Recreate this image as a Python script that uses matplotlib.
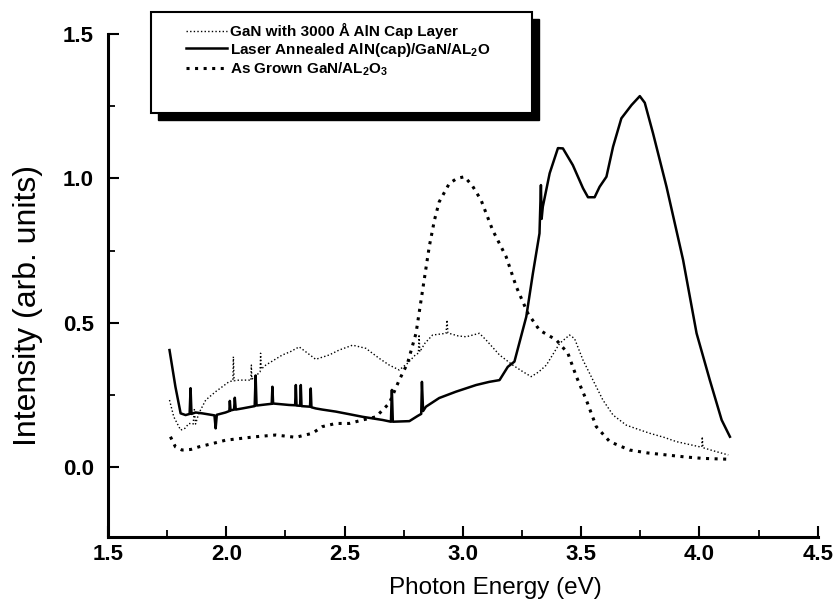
import matplotlib
matplotlib.use("Agg")
import matplotlib.pyplot as plt
from matplotlib.patches import Rectangle
from matplotlib.ticker import MultipleLocator

plt.rcParams['font.family'] = ['Liberation Sans', 'DejaVu Sans']
plt.rcParams['mathtext.fontset'] = 'custom'
plt.rcParams['mathtext.rm'] = 'Liberation Sans:bold'
plt.rcParams['mathtext.it'] = 'Liberation Sans:bold'

# ---- data ----
annealed_x = [1.760, 1.785, 1.807, 1.828, 1.845, 1.849, 1.853, 1.870, 1.898, 1.950, 1.955, 1.960,
              1.997, 2.013, 2.015, 2.018, 2.033, 2.036, 2.040, 2.068, 2.120, 2.124, 2.128, 2.170,
              2.192, 2.195, 2.198, 2.265, 2.291, 2.294, 2.297, 2.312, 2.315, 2.318, 2.354, 2.357,
              2.360, 2.378, 2.406, 2.463, 2.520, 2.576, 2.630, 2.661, 2.696, 2.700, 2.704, 2.774,
              2.809, 2.824, 2.827, 2.832, 2.844, 2.900, 2.971, 3.056, 3.112, 3.155, 3.190, 3.218,
              3.268, 3.296, 3.324, 3.330, 3.333, 3.338, 3.367, 3.402, 3.423, 3.465, 3.508, 3.529,
              3.557, 3.578, 3.607, 3.635, 3.670, 3.713, 3.748, 3.769, 3.804, 3.861, 3.931, 3.988,
              4.044, 4.094, 4.129]
annealed_y = [0.406, 0.279, 0.187, 0.181, 0.185, 0.274, 0.185, 0.190, 0.187, 0.180, 0.135, 0.182,
              0.190, 0.195, 0.230, 0.197, 0.200, 0.241, 0.200, 0.204, 0.212, 0.318, 0.214, 0.218,
              0.220, 0.279, 0.221, 0.216, 0.215, 0.285, 0.214, 0.213, 0.285, 0.212, 0.210, 0.273,
              0.208, 0.204, 0.200, 0.193, 0.184, 0.175, 0.168, 0.164, 0.158, 0.268, 0.158, 0.160,
              0.178, 0.185, 0.296, 0.195, 0.210, 0.240, 0.262, 0.285, 0.296, 0.302, 0.348, 0.366,
              0.521, 0.671, 0.810, 0.977, 0.860, 0.902, 1.018, 1.105, 1.104, 1.046, 0.966, 0.935,
              0.935, 0.971, 1.006, 1.110, 1.208, 1.254, 1.285, 1.262, 1.156, 0.971, 0.718, 0.464,
              0.302, 0.164, 0.106]

grown_x = [1.764, 1.785, 1.813, 1.850, 1.884, 1.940, 1.997, 2.060, 2.124, 2.209, 2.294, 2.364,
           2.406, 2.463, 2.520, 2.576, 2.633, 2.689, 2.731, 2.766, 2.802, 2.830, 2.858, 2.880,
           2.900, 2.943, 2.975, 3.007, 3.040, 3.077, 3.126, 3.183, 3.226, 3.275, 3.324, 3.395,
           3.444, 3.480, 3.522, 3.564, 3.621, 3.705, 3.780, 3.861, 3.940, 4.016, 4.129]
grown_y = [0.106, 0.071, 0.060, 0.062, 0.071, 0.082, 0.094, 0.100, 0.106, 0.112, 0.104, 0.118,
           0.141, 0.152, 0.152, 0.164, 0.175, 0.222, 0.302, 0.360, 0.464, 0.614, 0.764, 0.856,
           0.919, 0.983, 1.000, 1.006, 0.975, 0.925, 0.821, 0.729, 0.625, 0.533, 0.475, 0.441,
           0.395, 0.314, 0.233, 0.141, 0.089, 0.060, 0.050, 0.043, 0.036, 0.031, 0.028]

capped_x = [1.760, 1.778, 1.807, 1.825, 1.842, 1.860, 1.865, 1.870, 1.884, 1.913, 1.955, 2.011,
            2.028, 2.030, 2.033, 2.054, 2.096, 2.104, 2.106, 2.108, 2.143, 2.145, 2.148, 2.167,
            2.237, 2.270, 2.308, 2.336, 2.378, 2.435, 2.477, 2.534, 2.590, 2.647, 2.689, 2.731,
            2.766, 2.800, 2.812, 2.815, 2.818, 2.840, 2.872, 2.929, 2.933, 2.937, 2.980, 3.014,
            3.070, 3.098, 3.155, 3.211, 3.254, 3.289, 3.320, 3.353, 3.409, 3.451, 3.472, 3.508,
            3.550, 3.592, 3.635, 3.691, 3.740, 3.790, 3.850, 3.903, 4.002, 4.010, 4.012, 4.015,
            4.073, 4.122]
capped_y = [0.233, 0.175, 0.129, 0.135, 0.152, 0.150, 0.200, 0.150, 0.187, 0.233, 0.262, 0.296,
            0.300, 0.383, 0.300, 0.302, 0.302, 0.300, 0.354, 0.305, 0.330, 0.395, 0.340, 0.354,
            0.389, 0.400, 0.417, 0.400, 0.374, 0.389, 0.406, 0.423, 0.412, 0.377, 0.354, 0.337,
            0.360, 0.390, 0.395, 0.460, 0.400, 0.430, 0.458, 0.464, 0.510, 0.465, 0.455, 0.452,
            0.464, 0.441, 0.389, 0.354, 0.331, 0.314, 0.330, 0.354, 0.429, 0.458, 0.446, 0.371,
            0.302, 0.233, 0.181, 0.146, 0.132, 0.118, 0.104, 0.089, 0.071, 0.071, 0.106, 0.068,
            0.054, 0.043]

labels = ["GaN with 3000 Å AlN Cap Layer",
          "Laser Annealed AlN(cap)/GaN/AL$_2$O",
          "As Grown GaN/AL$_2$O$_3$"]

x_ticks = [1.5, 2.0, 2.5, 3.0, 3.5, 4.0, 4.5]
y_ticks = [0.0, 0.5, 1.0, 1.5]

# ---- figure ----
W, H = 837, 612
fig = plt.figure(figsize=(W / 100, H / 100), dpi=100)
ax = fig.add_axes([108 / W, 1 - 536.7 / H, (817.7 - 108) / W, (536.7 - 34) / H])

l_cap, = ax.plot(capped_x, capped_y, color='black', lw=1.0, linestyle=(0, (1, 1.6)))
l_ann, = ax.plot(annealed_x, annealed_y, color='black', lw=1.8, linestyle='-')
l_grw, = ax.plot(grown_x, grown_y, color='black', lw=2.2, linestyle=(0, (1, 1.8)))

ax.set_xlim(1.5, 4.5)
ax.set_ylim(-0.24, 1.5)
ax.set_xticks(x_ticks)
ax.set_yticks(y_ticks)
ax.xaxis.set_minor_locator(MultipleLocator(0.25))
ax.yaxis.set_minor_locator(MultipleLocator(0.25))
ax.set_xticklabels([f"{v:.1f}" for v in x_ticks], fontsize=16, fontweight='bold')
ax.set_yticklabels([f"{v:.1f}" for v in y_ticks], fontsize=16, fontweight='bold')
ax.tick_params(which='major', direction='in', length=8, width=1.5, colors='black')
ax.tick_params(which='minor', direction='in', length=5, width=1.3)
ax.tick_params(axis='x', which='major', pad=5)
ax.tick_params(axis='y', which='major', pad=10)

for s in ['top', 'right']:
    ax.spines[s].set_visible(False)
for s in ['left', 'bottom']:
    ax.spines[s].set_linewidth(2.2)

fig.text(495 / W, 1 - 588 / H, "Photon Energy (eV)", fontsize=17.5, ha='center', va='center')
fig.text(28 / W, 1 - 305 / H, "Intensity (arb. units)", fontsize=23, ha='center', va='center',
         rotation=90)

# legend box with heavy shadow
bx0, bx1, by0, by1 = 151, 532, 12, 113
off = 7
fig.add_artist(Rectangle(((bx0 + off) / W, 1 - (by1 + off) / H), (bx1 - bx0) / W, (by1 - by0) / H,
                         transform=fig.transFigure, facecolor='black', edgecolor='black', zorder=3))
fig.add_artist(Rectangle((bx0 / W, 1 - by1 / H), (bx1 - bx0) / W, (by1 - by0) / H,
                         transform=fig.transFigure, facecolor='white', edgecolor='black',
                         lw=1.5, zorder=4))

fig.legend([l_cap, l_ann, l_grw], labels, loc='upper left',
           bbox_to_anchor=(186 / W, 1 - 23 / H), frameon=False, borderpad=0,
           prop={'size': 11, 'weight': 'bold'}, handlelength=2.7, handletextpad=0.2,
           labelspacing=0.1, borderaxespad=0)

fig.savefig("out.png", dpi=100)
